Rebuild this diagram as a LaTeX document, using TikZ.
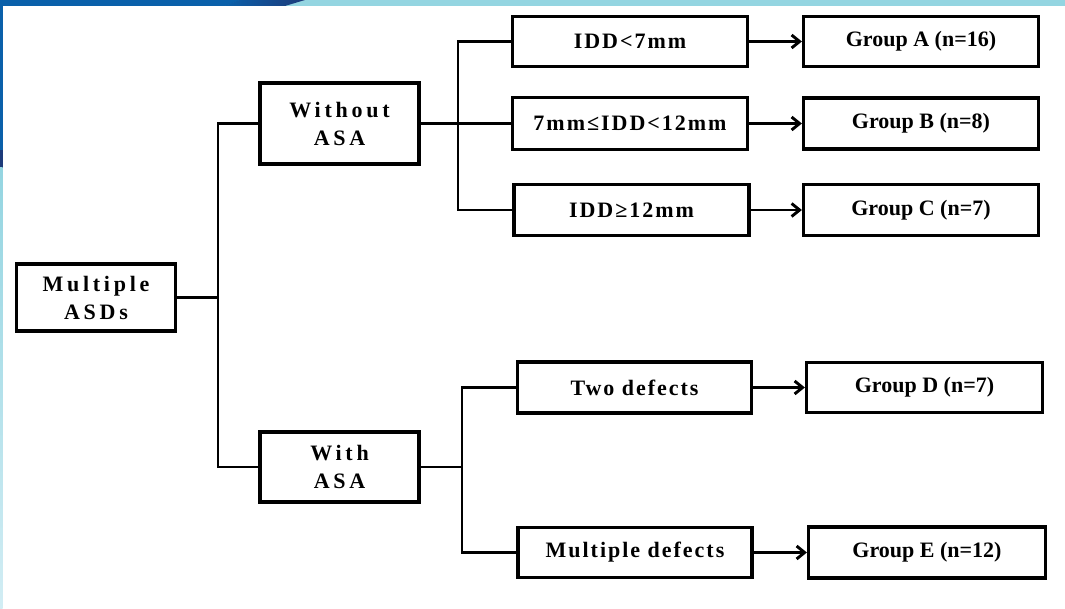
\documentclass[tikz,border=0pt]{standalone}
\usepackage{fontspec}
\setmainfont{Liberation Serif}
\newfontfamily\widesp[LetterSpace=17]{Liberation Serif}
\newfontfamily\midsp[LetterSpace=9]{Liberation Serif}
\usetikzlibrary{arrows.meta}
\definecolor{bandblue}{HTML}{0A60AA}
\definecolor{bandnavy}{HTML}{1D3B7A}
\definecolor{bandcyan}{HTML}{94D5E1}
\definecolor{bandpale}{HTML}{D2EDF4}
\begin{document}
\begin{tikzpicture}[x=1pt,y=-1pt,
  box/.style={draw, line width=3.2pt, inner sep=0pt, align=center,
    font=\bfseries\fontsize{22}{28}\selectfont},
  conn/.style={line width=2.9pt},
  arr/.style={line width=2.9pt, -{Straight Barb[length=8pt,width=13pt]}}]
\useasboundingbox (0,0) rectangle (1065,609);
\fill[white] (0,0) rectangle (1065,609);
% decorative bands
\fill[bandcyan] (0,0) rectangle (1065,6);
\fill[bandblue] (0,0) -- (240,0) -- (225,6) -- (0,6) -- cycle;
\shade[left color=bandblue, right color=bandnavy] (239,0) -- (305,0) -- (285,6) -- (224,6) -- cycle;
\fill[bandblue] (0,0) rectangle (2.5,150);
\fill[bandnavy] (0,150) rectangle (2.5,168);
\shade[top color=bandcyan, bottom color=bandpale] (0,168) rectangle (2.5,609);

% nodes
\node[box, minimum width=159pt, minimum height=67pt] (msd) at (96,297.5) {{\widesp Multiple}\\{\widesp ASDs}};
\node[box, minimum width=159pt, minimum height=81pt] (wo) at (339.5,123.5) {{\widesp Without}\\{\widesp ASA}};
\node[box, minimum width=159pt, minimum height=70pt] (wi) at (339.5,467) {{\widesp With}\\{\widesp ASA}};

\node[box, minimum width=235pt, minimum height=50pt] (c1) at (630,41.5) {\midsp IDD<7mm};
\node[box, minimum width=235pt, minimum height=52pt] (c2) at (630,123.5) {\midsp 7mm≤IDD<12mm};
\node[box, minimum width=235pt, minimum height=51pt] (c3) at (631.5,210) {\midsp IDD≥12mm};

\node[box, minimum width=235pt, minimum height=50pt] (gA) at (921,41.5) {Group A (n=16)};
\node[box, minimum width=235pt, minimum height=51pt] (gB) at (921,123.5) {Group B (n=8)};
\node[box, minimum width=235pt, minimum height=51pt] (gC) at (921,210) {Group C (n=7)};

\node[box, minimum width=234pt, minimum height=51pt] (d1) at (634.5,387.5) {\midsp Two defects};
\node[box, minimum width=234pt, minimum height=50pt] (d2) at (635,552.5) {\midsp Multiple defects};

\node[box, minimum width=236pt, minimum height=50pt] (gD) at (924.5,387.5) {Group D (n=7)};
\node[box, minimum width=237pt, minimum height=51pt] (gE) at (927,552.5) {Group E (n=12)};

% trunk coordinates
\coordinate (t1) at (218,0);
\coordinate (t2) at (458,0);
\coordinate (t3) at (462,0);

% connectors
\draw[conn] (msd.east) -- (msd.east -| t1);
\draw[conn] (wo.west) -| (wi.west -| t1) -- (wi.west);
\draw[conn] (wo.east) -- (c2.west);
\draw[conn] (c1.west) -| (c3.west -| t2) -- (c3.west);
\draw[conn] (wi.east) -- (wi.east -| t3);
\draw[conn] (d1.west) -| (d2.west -| t3) -- (d2.west);

\draw[arr] (c1.east) -- (gA.west);
\draw[arr] (c2.east) -- (gB.west);
\draw[arr] (c3.east) -- (gC.west);
\draw[arr] (d1.east) -- (gD.west);
\draw[arr] (d2.east) -- (gE.west);
\end{tikzpicture}
\end{document}
